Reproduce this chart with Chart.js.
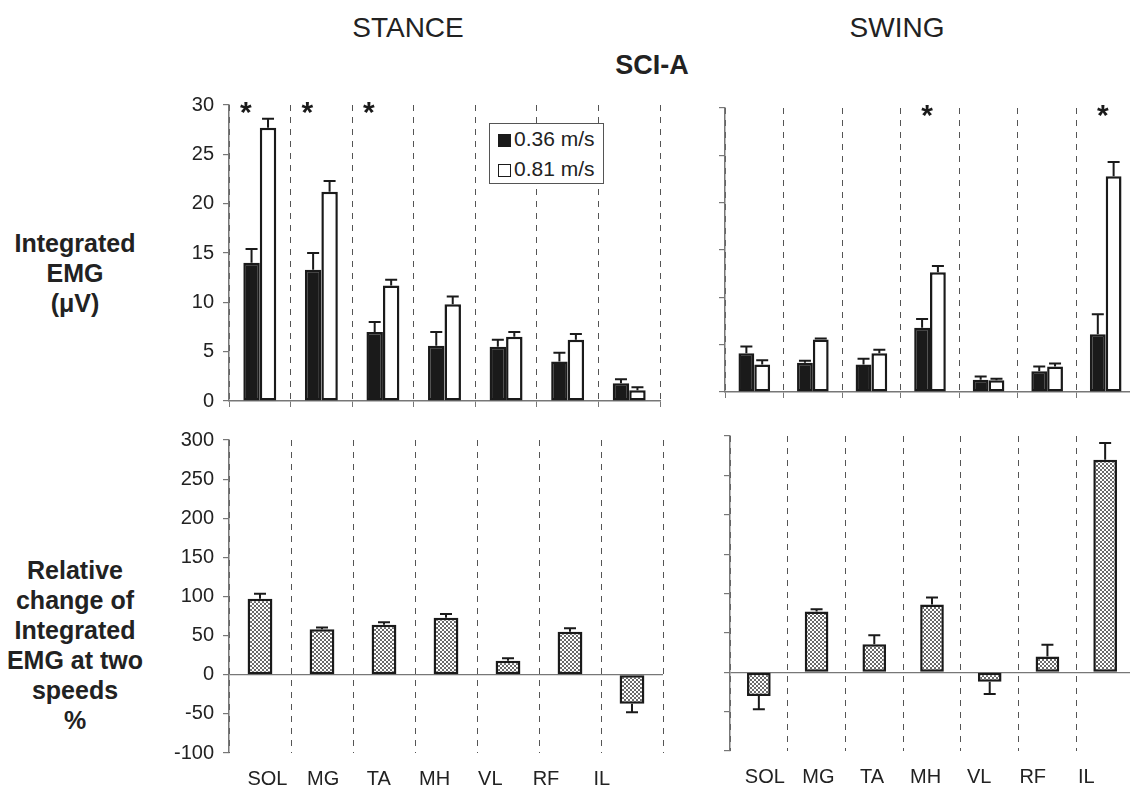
<!DOCTYPE html>
<html>
<head>
<meta charset="utf-8">
<script src="https://cdn.jsdelivr.net/npm/chart.js@4.4.0/dist/chart.umd.min.js"></script>
<style>
  body { margin: 0; background: #fff; overflow: hidden; font-family: "Liberation Sans", Arial, sans-serif; color: #222; }
  #pagina { position: relative; width: 1130px; height: 788px; overflow: hidden; }
  canvas { position: absolute; }
  .titulo { position: absolute; transform: translate(-50%, -50%); white-space: nowrap; font-size: 28px; }
  .lado { position: absolute; left: 0; width: 150px; text-align: center; font-weight: bold; font-size: 25px; line-height: 30px; }
  #legenda { position: absolute; left: 489px; top: 123px; width: 113px; height: 59px; border: 1px solid #555; font-size: 21px; background: #fff; }
  #legenda div { height: 30px; line-height: 30px; white-space: nowrap; }
  .marca { display: inline-block; width: 13px; height: 13px; margin: 0 3px 0 8px; box-sizing: border-box; vertical-align: -1px; }
</style>
</head>
<body>
<div id="pagina">
  <div class="titulo" style="left:408px; top:28px;">STANCE</div>
  <div class="titulo" style="left:897px; top:28px;">SWING</div>
  <div class="titulo" style="left:652px; top:65px; font-weight:bold; font-size:27px;">SCI-A</div>

  <div class="lado" style="top:228px;">Integrated<br>EMG<br>(&mu;V)</div>
  <div class="lado" style="top:555px;">Relative<br>change of<br>Integrated<br>EMG at two<br>speeds<br>%</div>

  <canvas id="chartStanceEMG" width="530" height="330" style="left:150px; top:90px;"></canvas>
  <canvas id="chartSwingEMG" width="460" height="330" style="left:680px; top:90px;"></canvas>
  <canvas id="chartStanceRel" width="530" height="363" style="left:150px; top:425px;"></canvas>
  <canvas id="chartSwingRel" width="460" height="363" style="left:680px; top:425px;"></canvas>

  <div id="legenda">
    <div><span class="marca" style="background:#1a1a1a;"></span>0.36 m/s</div>
    <div><span class="marca" style="border:1.5px solid #1a1a1a;"></span>0.81 m/s</div>
  </div>
</div>

<script>
const musculos = ['SOL', 'MG', 'TA', 'MH', 'VL', 'RF', 'IL'];

// integrated EMG (uV), stance
const stanceLento = [14.0, 13.3, 7.0, 5.6, 5.5, 4.0, 1.8];
const stanceLentoErro = [1.4, 1.7, 1.0, 1.4, 0.7, 0.9, 0.4];
const stanceRapido = [27.7, 21.2, 11.7, 9.8, 6.5, 6.2, 1.1];
const stanceRapidoErro = [0.9, 1.1, 0.6, 0.8, 0.5, 0.6, 0.3];

// integrated EMG (uV), swing
const swingLento = [4.1, 3.1, 2.9, 6.8, 1.3, 2.2, 6.1];
const swingLentoErro = [0.7, 0.2, 0.6, 0.9, 0.35, 0.5, 2.1];
const swingRapido = [2.9, 5.55, 4.1, 12.65, 1.25, 2.7, 22.8];
const swingRapidoErro = [0.45, 0.1, 0.35, 0.65, 0.15, 0.3, 1.5];

// relative change (%)
const stanceRelativo = [97, 58, 64, 73, 18, 55, -37];
const stanceRelativoErro = [6.5, 2.5, 3, 4.5, 3, 4.5, 11];
const swingRelativo = [-30, 77, 35.5, 86, -12, 20, 270];
const swingRelativoErro = [17, 3, 11.5, 9, 15.5, 15, 21];

const stanceSignificativo = [true, true, true, false, false, false, false];
const swingSignificativo = [false, false, false, true, false, false, true];

const fonte = '"Liberation Sans", Arial, sans-serif';
Chart.defaults.font.family = fonte;
Chart.defaults.color = '#222';

// barras de erro (so para o lado do valor)
const barrasErro = {
  id: 'barrasErro',
  afterDatasetsDraw(chart) {
    const ctx = chart.ctx;
    const y = chart.scales.y;
    chart.data.datasets.forEach((ds, di) => {
      if (!ds.erros) return;
      const meta = chart.getDatasetMeta(di);
      meta.data.forEach((barra, i) => {
        const v = ds.data[i];
        const fim = v >= 0 ? v + ds.erros[i] : v - ds.erros[i];
        const y0 = y.getPixelForValue(v);
        const y1 = y.getPixelForValue(fim);
        ctx.save();
        ctx.strokeStyle = '#1a1a1a';
        ctx.lineWidth = 2;
        ctx.beginPath();
        ctx.moveTo(barra.x, y0);
        ctx.lineTo(barra.x, y1);
        ctx.moveTo(barra.x - 6, y1);
        ctx.lineTo(barra.x + 6, y1);
        ctx.stroke();
        ctx.restore();
      });
    });
  }
};

const asteriscos = {
  id: 'asteriscos',
  afterDatasetsDraw(chart, args, opts) {
    if (!opts.marcas) return;
    const ctx = chart.ctx;
    const x = chart.scales.x;
    const y = chart.scales.y;
    ctx.save();
    ctx.font = 'bold 30px ' + fonte;
    ctx.fillStyle = '#1a1a1a';
    ctx.textAlign = 'center';
    ctx.textBaseline = 'alphabetic';
    opts.marcas.forEach((m, i) => {
      if (!m) return;
      ctx.fillText('*', x.getPixelForValue(i) + opts.dx, y.getPixelForValue(opts.altura) + 17);
    });
    ctx.restore();
  }
};

Chart.register(barrasErro, asteriscos);

function pontilhado() {
  const c = document.createElement('canvas');
  c.width = 4;
  c.height = 4;
  const g = c.getContext('2d');
  g.fillStyle = '#fff';
  g.fillRect(0, 0, 4, 4);
  g.fillStyle = '#6a6a6a';
  g.fillRect(0, 0, 2, 2);
  g.fillRect(2, 2, 2, 2);
  return g.createPattern(c, 'repeat');
}

// eixo das categorias: so as linhas tracejadas entre os musculos
function eixoX(altura, inferior) {
  return {
    offset: true,
    grid: {
      offset: true,
      color: '#555',
      lineWidth: 1,
      drawTicks: !inferior,
      tickLength: 6,
      tickColor: '#777',
      tickBorderDash: []
    },
    border: { display: !inferior, color: '#777', width: 1.5, dash: [6, 6] },
    ticks: { display: false, autoSkip: false },
    afterFit: s => { s.height = altura; s.paddingLeft = 0; s.paddingRight = 0; }
  };
}

// nomes dos musculos embaixo dos graficos de baixo
function eixoRotulos(min, max, altura) {
  return {
    type: 'linear',
    position: 'bottom',
    offset: false,
    min: min,
    max: max,
    grid: { display: false, drawTicks: false, offset: false },
    border: { display: false },
    ticks: { color: '#222', font: { size: 20 }, padding: 14, maxRotation: 0, autoSkip: false, callback: v => musculos[v] },
    afterBuildTicks: s => { s.ticks = musculos.map((m, i) => ({ value: i })); },
    afterFit: s => { s.height = altura; s.paddingLeft = 0; s.paddingRight = 0; }
  };
}

function eixoY(min, max, passo, comRotulos, largura, linhaZero) {
  return {
    min: min,
    max: max,
    ticks: { stepSize: passo, display: comRotulos, color: '#222', font: { size: 20 }, padding: 9 },
    grid: {
      drawOnChartArea: linhaZero,
      color: c => (c.tick && c.tick.value === 0) ? '#777' : 'rgba(0,0,0,0)',
      lineWidth: 1.2,
      tickLength: 6,
      tickColor: '#777'
    },
    border: { display: true, color: '#777', width: 1.5 },
    afterFit: s => { s.width = largura; s.paddingTop = 0; s.paddingBottom = 0; }
  };
}

function graficoEMG(id, lento, lentoErro, rapido, rapidoErro, cfg) {
  const ctx = document.getElementById(id).getContext('2d');
  return new Chart(ctx, {
    type: 'bar',
    data: {
      labels: musculos,
      datasets: [
        {
          label: '0.36 m/s',
          data: lento,
          erros: lentoErro,
          backgroundColor: '#1a1a1a',
          borderColor: '#1a1a1a',
          borderWidth: 2.5,
          borderSkipped: false,
          categoryPercentage: cfg.largBarra,
          barPercentage: 1
        },
        {
          label: '0.81 m/s',
          data: rapido,
          erros: rapidoErro,
          backgroundColor: '#fff',
          borderColor: '#1a1a1a',
          borderWidth: 2.5,
          borderSkipped: false,
          categoryPercentage: cfg.largBarra,
          barPercentage: 1
        }
      ]
    },
    options: {
      responsive: false,
      animation: false,
      layout: { padding: cfg.padding },
      plugins: {
        legend: { display: false },
        tooltip: { enabled: false },
        asteriscos: { marcas: cfg.marcas, dx: cfg.dx, altura: 30 }
      },
      scales: {
        x: eixoX(cfg.alturaX, false),
        y: eixoY(0, 30, 5, cfg.rotulosY, cfg.largY, false)
      }
    }
  });
}

function graficoRelativo(id, valores, erros, cfg) {
  const ctx = document.getElementById(id).getContext('2d');
  return new Chart(ctx, {
    type: 'bar',
    data: {
      labels: musculos,
      datasets: [{
        label: 'Relative change',
        data: valores,
        erros: erros,
        backgroundColor: pontilhado(),
        borderColor: '#1a1a1a',
        borderWidth: 2.5,
        borderSkipped: false,
        categoryPercentage: 1,
        barPercentage: cfg.largBarra
      }]
    },
    options: {
      responsive: false,
      animation: false,
      layout: { padding: cfg.padding },
      plugins: {
        legend: { display: false },
        tooltip: { enabled: false }
      },
      scales: {
        x: eixoX(0, true),
        nomes: eixoRotulos(cfg.rotuloMin, cfg.rotuloMax, cfg.alturaX),
        y: eixoY(-100, 300, 50, cfg.rotulosY, cfg.largY, true)
      }
    }
  });
}

graficoEMG('chartStanceEMG', stanceLento, stanceLentoErro, stanceRapido, stanceRapidoErro, {
  largBarra: 0.535, padding: { top: 15, right: 20, left: 0, bottom: 0 },
  alturaX: 19, largY: 79, rotulosY: true, marcas: stanceSignificativo, dx: -14
});

graficoEMG('chartSwingEMG', swingLento, swingLentoErro, swingRapido, swingRapidoErro, {
  largBarra: 0.54, padding: { top: 18, right: 5, left: 0, bottom: 0 },
  alturaX: 28, largY: 45, rotulosY: false, marcas: swingSignificativo, dx: -3
});

graficoRelativo('chartStanceRel', stanceRelativo, stanceRelativoErro, {
  largBarra: 0.4, padding: { top: 15, right: 17, left: 0, bottom: 0 },
  alturaX: 35, largY: 79, rotulosY: true, rotuloMin: -0.69, rotuloMax: 7.1
});

graficoRelativo('chartSwingRel', swingRelativo, swingRelativoErro, {
  largBarra: 0.41, padding: { top: 11, right: 6, left: 0, bottom: 0 },
  alturaX: 37, largY: 50, rotulosY: false, rotuloMin: -0.65, rotuloMax: 6.89
});
</script>
</body>
</html>
